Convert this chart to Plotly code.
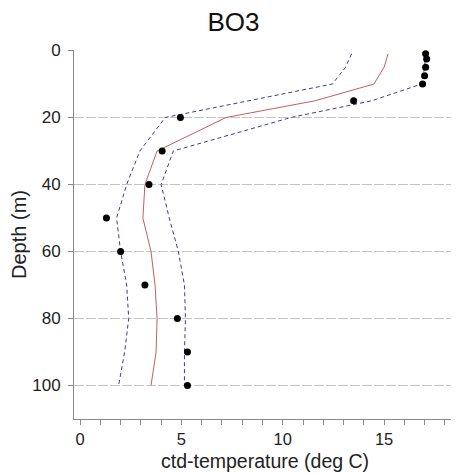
import plotly.graph_objects as go

# Observed CTD temperature (dots)
obs_depth = [1, 2.5, 5, 7.5, 10, 15, 20, 30, 40, 50, 60, 70, 80, 90, 100]
obs_temp = [17.05, 17.1, 17.05, 17.0, 16.9, 13.5, 4.95, 4.05, 3.4, 1.3, 2.0, 3.2, 4.8, 5.3, 5.3]

# Model profile depths
prof_depth = [1, 5, 10, 15, 20, 30, 40, 50, 60, 70, 80, 90, 100]
mean_temp = [15.2, 15.0, 14.5, 11.6, 7.2, 3.8, 3.2, 3.1, 3.5, 3.7, 3.8, 3.75, 3.5]
lower_temp = [13.4, 13.1, 12.45, 8.3, 4.2, 2.95, 2.3, 1.8, 2.0, 2.3, 2.4, 2.2, 1.9]
upper_temp = [17.05, 17.0, 16.85, 14.4, 10.4, 4.6, 4.0, 4.4, 4.85, 5.15, 5.2, 5.15, 5.15]

title_text = "BO3"
x_title = "ctd-temperature (deg C)"
y_title = "Depth (m)"

blue = "#3c3c96"
red = "#c06060"

fig = go.Figure()
fig.add_trace(go.Scatter(x=lower_temp, y=prof_depth, mode="lines",
                         line=dict(color=blue, width=1, dash="4px,3px")))
fig.add_trace(go.Scatter(x=upper_temp, y=prof_depth, mode="lines",
                         line=dict(color=blue, width=1, dash="4px,3px")))
fig.add_trace(go.Scatter(x=mean_temp, y=prof_depth, mode="lines",
                         line=dict(color=red, width=1)))
fig.add_trace(go.Scatter(x=obs_temp, y=obs_depth, mode="markers",
                         marker=dict(color="black", size=7)))

font_family = "Liberation Sans, Arial, sans-serif"
# page body has an 8px margin, so the figure is drawn 8px smaller and offset
fig.update_layout(
    width=451, height=466,
    margin=dict(l=66, r=4, t=42, b=55),
    paper_bgcolor="white", plot_bgcolor="white",
    showlegend=False,
    font=dict(family=font_family, color="#222222", size=17),
    title=dict(text=title_text, x=0.5, xanchor="center", y=0.97, yanchor="middle",
               font=dict(size=26, color="#111111")),
)
fig.add_annotation(text=x_title, xref="paper", yref="paper", x=0.5, y=-0.115,
                   xanchor="center", yanchor="middle", showarrow=False,
                   font=dict(size=19.5, color="#222222"))
fig.update_xaxes(
    range=[-0.3, 18.5], dtick=5, tick0=0,
    showgrid=False, zeroline=False,
    showline=True, linecolor="#888888", linewidth=1,
    ticks="outside", ticklen=5, tickcolor="#888888",
    minor=dict(dtick=1, ticks="outside", ticklen=5, tickcolor="#888888", showgrid=False),
    tickfont=dict(size=16.5), ticklabelstandoff=0,
)
fig.update_yaxes(
    range=[110, -0.15], dtick=20, tick0=0,
    showgrid=True, gridcolor="#c4c4c4", gridwidth=1, griddash="10px,2px",
    zeroline=False,
    showline=True, linecolor="#888888", linewidth=1,
    ticks="outside", ticklen=5, tickcolor="#888888",
    tickfont=dict(size=17), ticklabelstandoff=4,
    title=dict(text=y_title, font=dict(size=20), standoff=6),
)

fig.write_html("out.html")
